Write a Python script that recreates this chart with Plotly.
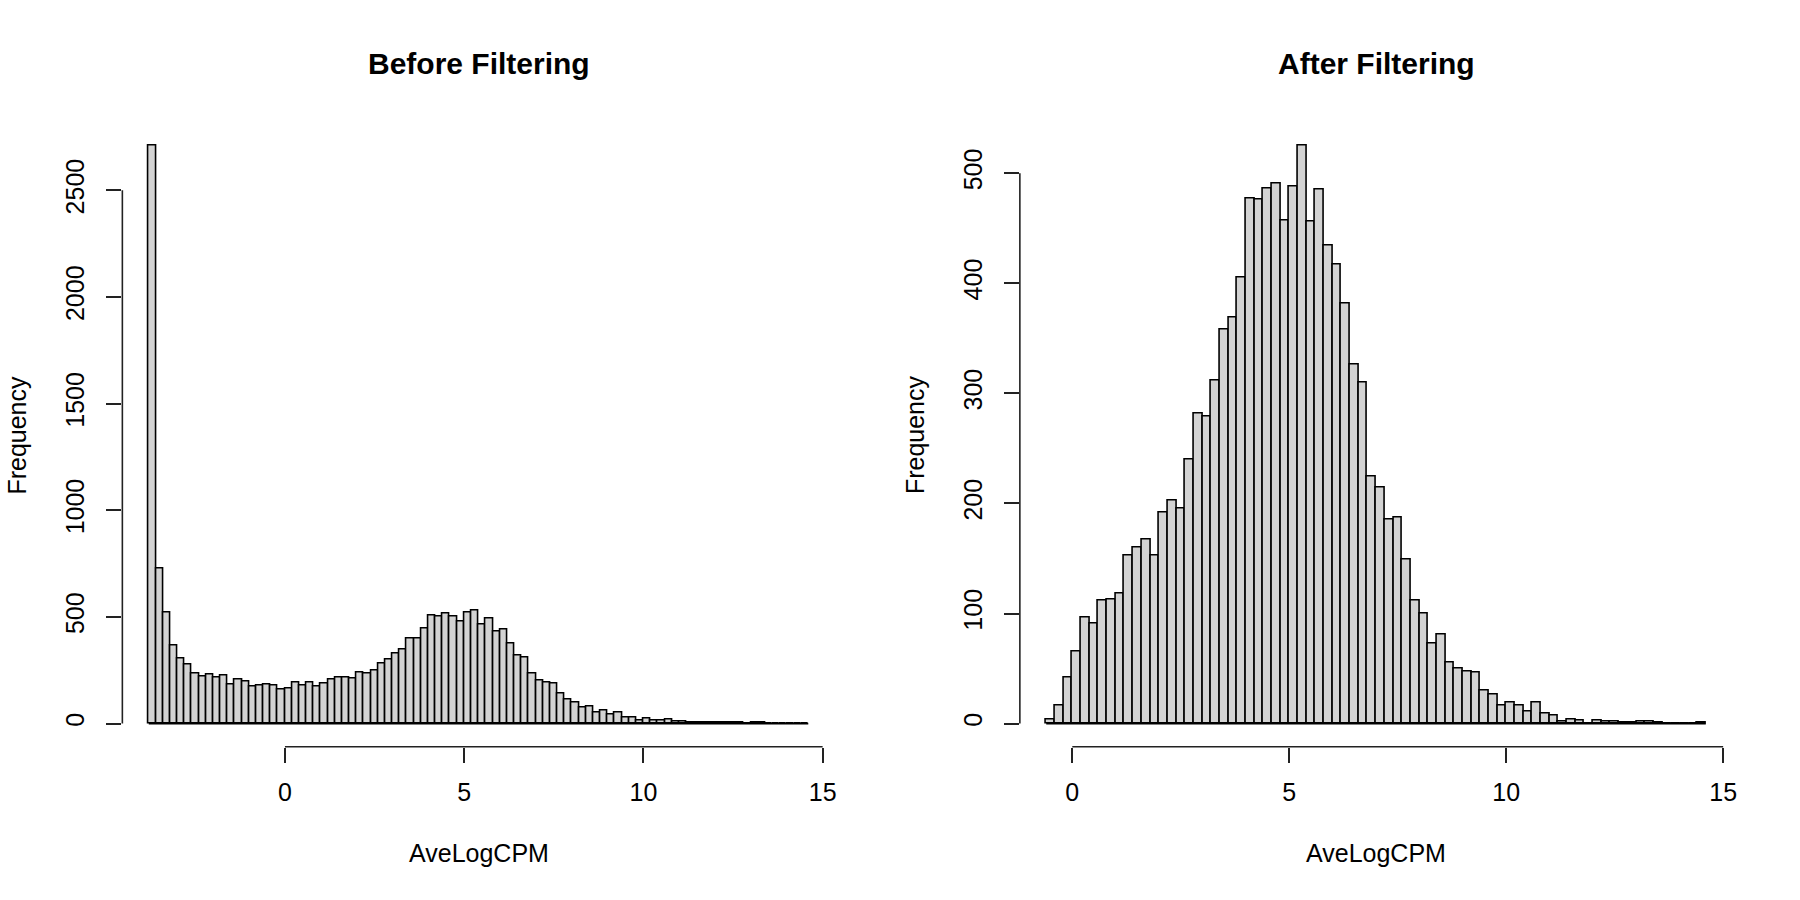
import numpy as np
import plotly.graph_objects as go

# ---------------- data ----------------
bin_width = 0.2
before_start = -3.8
before_counts = [
    2709, 726, 522, 366, 306, 275, 236, 220, 228, 217, 225, 181, 208, 197, 173, 177, 185, 178, 158, 164,
    190, 178, 192, 172, 188, 206, 216, 217, 209, 241, 233, 250, 280, 302, 328, 348, 397, 397, 444, 508,
    500, 517, 503, 477, 519, 531, 463, 491, 433, 442, 375, 320, 311, 234, 203, 194, 188, 142, 113, 98,
    73, 78, 50, 63, 42, 50, 30, 27, 14, 25, 16, 13, 19, 9, 8, 5, 6, 6, 3, 3,
    4, 4, 3, 2, 5, 5, 2, 1, 2, 1, 1, 1,
]
after_start = -0.6
after_counts = [
    4, 16, 42, 65, 96, 91, 112, 113, 118, 153, 160, 167, 153, 192, 203, 195, 240, 282, 279, 312,
    358, 369, 405, 477, 476, 486, 491, 457, 488, 525, 456, 485, 434, 417, 382, 326, 310, 224, 214, 185,
    187, 149, 112, 100, 73, 81, 55, 50, 47, 46, 30, 26, 16, 19, 16, 11, 19, 9, 7, 2,
    4, 3, 0, 3, 2, 2, 1, 1, 2, 2, 1, 0, 0, 0, 0, 1,
]
x_ticks = [0, 5, 10, 15]
x_tick_labels = ["0", "5", "10", "15"]
before_y_ticks = [0, 500, 1000, 1500, 2000, 2500]
before_y_labels = ["0", "500", "1000", "1500", "2000", "2500"]
after_y_ticks = [0, 100, 200, 300, 400, 500]
after_y_labels = ["0", "100", "200", "300", "400", "500"]
titles = ["Before Filtering", "After Filtering"]
x_title = "AveLogCPM"
y_title = "Frequency"

# ---------------- layout constants ----------------
W, H = 1800, 900
FONT = "Liberation Sans, Arial, Helvetica, sans-serif"
y_dom = [(H - 746.7) / H, (H - 122.6) / H]
x_doms = [[122.7 / W, 837.0 / W], [1022.7 / W, 1737.0 / W]]
line_w = 1.6
axis_col = "#222222"

fig = go.Figure()
panels = [
    (before_start, before_counts, before_y_ticks, before_y_labels),
    (after_start, after_counts, after_y_ticks, after_y_labels),
]

shapes = []
annotations = []
for i, (start, counts, yt, yl) in enumerate(panels):
    n = len(counts)
    edges = start + bin_width * np.arange(n + 1)
    centers = edges[:-1] + bin_width / 2
    xa = "x" if i == 0 else "x2"
    ya = "y" if i == 0 else "y2"
    fig.add_trace(go.Bar(
        x=centers, y=counts, width=bin_width,
        marker=dict(color="#D3D3D3", line=dict(color="black", width=line_w)),
        xaxis=xa, yaxis=ya, showlegend=False, hoverinfo="x+y",
    ))
    # baseline of empty bins (R draws zero-height rectangles)
    fig.add_trace(go.Scatter(
        x=[edges[0], edges[-1]], y=[0, 0], mode="lines",
        line=dict(color="black", width=line_w),
        xaxis=xa, yaxis=ya, showlegend=False, hoverinfo="skip",
    ))
    lo, hi = edges[0], edges[-1]
    pad = 0.04 * (hi - lo)
    ymax = max(counts)
    axis_common = dict(
        showgrid=False, zeroline=False, showline=False,
        ticks="outside", ticklen=15, tickwidth=line_w, tickcolor=axis_col,
        tickfont=dict(family=FONT, size=25, color="black"),
    )
    xkey = "xaxis" if i == 0 else "xaxis2"
    ykey = "yaxis" if i == 0 else "yaxis2"
    fig.update_layout(**{
        xkey: dict(domain=x_doms[i], range=[lo - pad, hi + pad], anchor=ya,
                   tickmode="array", tickvals=x_ticks, ticktext=x_tick_labels,
                   ticklabelstandoff=8, **axis_common),
        ykey: dict(domain=y_dom, range=[-0.04 * ymax, 1.04 * ymax], anchor=xa,
                   tickmode="array", tickvals=yt, ticktext=yl, tickangle=-90,
                   ticklabelstandoff=12, **axis_common),
    })
    # axis lines spanning only the tick range, as in R
    shapes.append(dict(type="line", xref=xa, yref="paper",
                       x0=x_ticks[0], x1=x_ticks[-1], y0=y_dom[0], y1=y_dom[0],
                       line=dict(color=axis_col, width=line_w)))
    shapes.append(dict(type="line", xref="paper", yref=ya,
                       x0=x_doms[i][0], x1=x_doms[i][0], y0=yt[0], y1=yt[-1],
                       line=dict(color=axis_col, width=line_w)))
    xc = (x_doms[i][0] + x_doms[i][1]) / 2
    annotations.append(dict(text="<b>%s</b>" % titles[i], xref="paper", yref="paper",
                            x=xc, y=1 - 63 / H, xanchor="center", yanchor="middle",
                            showarrow=False, font=dict(family=FONT, size=30, color="black")))
    annotations.append(dict(text=x_title, xref="paper", yref="paper",
                            x=xc, y=1 - 853 / H, xanchor="center", yanchor="middle",
                            showarrow=False, font=dict(family=FONT, size=25, color="black")))
    annotations.append(dict(text=y_title, xref="paper", yref="paper",
                            x=(i * 900 + 17) / W, y=(y_dom[0] + y_dom[1]) / 2,
                            xanchor="center", yanchor="middle", textangle=-90,
                            showarrow=False, font=dict(family=FONT, size=25, color="black")))

fig.update_layout(
    width=W, height=H, margin=dict(l=0, r=0, t=0, b=0),
    paper_bgcolor="white", plot_bgcolor="white",
    bargap=0, barmode="overlay",
    shapes=shapes, annotations=annotations,
    font=dict(family=FONT, color="black"),
)

fig.write_html("out.html",
               config={"displayModeBar": False},
               post_script="document.body.style.margin='0';document.body.style.padding='0';")
